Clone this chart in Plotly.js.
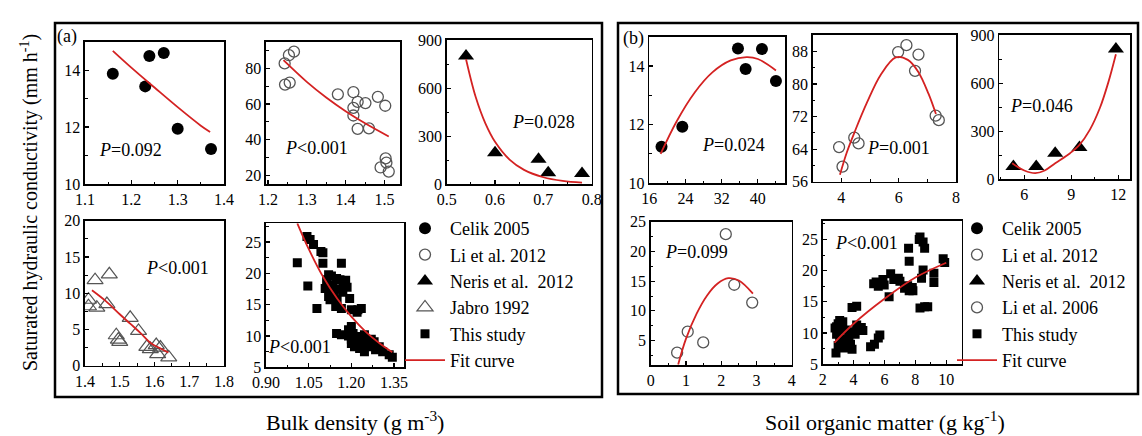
<!DOCTYPE html>
<html><head><meta charset="utf-8">
<script src="https://cdn.plot.ly/plotly-3.0.1.min.js"></script>
<style>html,body{margin:0;padding:0;background:#fff}#chart{width:1142px;height:436px}</style>
</head><body><div id="chart"></div>
<script>
// ---------- DATA ----------
// (a) Bulk density panels
const bdCelikX = [1.16, 1.239, 1.27, 1.23, 1.30, 1.372];
const bdCelikY = [13.87, 14.5, 14.6, 13.43, 11.94, 11.23];
const bdCelikFitX = [1.16, 1.20, 1.25, 1.30, 1.35, 1.37];
const bdCelikFitY = [14.68, 14.09, 13.39, 12.70, 12.05, 11.83];

const bdLiX = [1.243, 1.254, 1.267, 1.244, 1.256, 1.38, 1.42, 1.431, 1.451, 1.42, 1.42, 1.431, 1.46, 1.483, 1.502, 1.503, 1.505, 1.49, 1.511];
const bdLiY = [82.8, 87.4, 89.4, 70.9, 72.0, 65.4, 66.6, 61.2, 60.5, 57.8, 53.5, 46.0, 46.3, 64.0, 59.0, 29.4, 27.0, 24.3, 22.0];
const bdLiFitX = [1.24, 1.30, 1.35, 1.40, 1.45, 1.511];
const bdLiFitY = [84.6, 72.4, 63.6, 55.9, 49.1, 41.7];

const bdNerisX = [0.54, 0.60, 0.69, 0.71, 0.78];
const bdNerisY = [800, 197, 156, 72, 68];
const bdNerisFitX = [0.54, 0.56, 0.58, 0.60, 0.63, 0.66, 0.70, 0.74, 0.78];
const bdNerisFitY = [780, 544, 380, 265, 154, 90, 44, 21, 10];

const bdJabroX = [1.429, 1.47, 1.41, 1.41, 1.434, 1.463, 1.53, 1.554, 1.49, 1.496, 1.50, 1.578, 1.605, 1.617, 1.609, 1.641, 1.588];
const bdJabroY = [11.8, 12.6, 9.1, 8.2, 8.0, 8.5, 6.6, 4.8, 4.2, 3.6, 3.3, 2.6, 2.85, 2.5, 1.6, 1.15, 2.3];
const bdJabroFitX = [1.42, 1.46, 1.50, 1.53, 1.56, 1.59, 1.62, 1.64];
const bdJabroFitY = [10.4, 8.9, 7.1, 5.8, 4.5, 3.1, 2.3, 1.8];

const bdStudyX = [1.01, 1.047, 1.044, 1.055, 1.067, 1.093, 1.10, 1.079, 1.113, 1.13, 1.148, 1.16, 1.165, 1.171, 1.18, 1.108, 1.12, 1.125, 1.14, 1.15, 1.145, 1.165, 1.20, 1.22, 1.235, 1.148, 1.165, 1.19, 1.20, 1.206, 1.217, 1.20, 1.211, 1.229, 1.246, 1.263, 1.28, 1.298, 1.31, 1.333, 1.344, 1.246, 1.12, 1.135, 1.155, 1.17, 1.185, 1.13, 1.20, 1.19, 1.225, 1.27, 1.285, 1.25, 1.10, 1.194, 1.223];
const bdStudyY = [21.7, 18.0, 25.9, 25.4, 24.6, 23.5, 21.6, 14.4, 19.0, 19.6, 19.2, 19.0, 21.6, 18.5, 18.9, 17.6, 16.3, 15.8, 16.3, 15.8, 14.7, 14.4, 14.2, 13.8, 14.4, 10.4, 10.2, 11.0, 11.5, 10.4, 9.9, 8.8, 8.3, 8.0, 7.5, 8.3, 9.1, 8.3, 7.5, 7.0, 6.6, 10.2, 19.8, 18.2, 17.5, 17.0, 17.8, 17.0, 9.5, 10.0, 9.0, 9.5, 7.8, 8.8, 23.3, 16.0, 14.2];
const bdStudyFitX = [1.01, 1.05, 1.10, 1.15, 1.20, 1.25, 1.30, 1.344];
const bdStudyFitY = [28.0, 23.9, 19.5, 16.0, 13.1, 10.7, 8.8, 7.4];

// (b) Soil organic matter panels
const somCelikX = [18.7, 23.3, 35.6, 37.3, 40.9, 44.0];
const somCelikY = [11.25, 11.93, 14.6, 13.9, 14.58, 13.49];
const somCelikFitX = [18.5, 22, 26, 30, 34, 37.5, 40, 44];
const somCelikFitY = [11.0, 12.1, 13.09, 13.79, 14.19, 14.3, 14.24, 13.85];

const somLiX = [3.92, 4.04, 4.45, 4.6, 5.98, 6.27, 6.69, 6.57, 7.29, 7.4];
const somLiY = [64.5, 59.7, 66.8, 65.4, 87.8, 89.5, 87.2, 83.2, 72.2, 71.1];
const somLiFitX = [3.95, 4.18, 4.48, 4.9, 5.37, 5.9, 6.32, 6.68, 7.04, 7.3];
const somLiFitY = [57.7, 63.0, 68.5, 75.5, 82.2, 86.5, 85.9, 83.0, 77.6, 72.6];

const somNerisX = [5.3, 6.76, 7.97, 9.52, 11.85];
const somNerisY = [79.5, 80, 163, 199, 812];
const somNerisFitX = [5.22, 6.0, 6.7, 7.3, 7.97, 8.92, 9.52, 10.19, 10.83, 11.36, 11.85];
const somNerisFitY = [100, 55, 38, 55, 100, 163, 215, 310, 446, 603, 780];

const somLi06X = [0.75, 1.05, 1.49, 2.13, 2.37, 2.88];
const somLi06Y = [2.98, 6.5, 4.7, 22.9, 14.4, 11.4];
const somLi06FitX = [0.78, 1.0, 1.3, 1.6, 1.9, 2.2, 2.5, 2.9];
const somLi06FitY = [1.0, 5.3, 9.5, 12.6, 14.6, 15.5, 15.1, 12.9];

const somStudyX = [2.86, 2.8, 2.9, 3.0, 3.1, 3.2, 3.3, 3.0, 3.4, 3.6, 3.2, 3.5, 3.7, 3.8, 3.1, 2.9, 3.3, 3.9, 3.9, 4.2, 4.0, 4.3, 4.5, 4.6, 4.2, 4.1, 5.1, 5.35, 5.7, 5.6, 5.3, 5.6, 5.9, 6.4, 6.3, 6.9, 6.6, 7.3, 7.6, 7.8, 7.5, 7.0, 7.56, 7.6, 8.3, 8.5, 8.6, 8.25, 8.5, 8.4, 8.3, 8.6, 8.8, 9.2, 9.2, 9.8, 9.9, 5.46, 5.98, 7.84];
const somStudyY = [6.8, 10.8, 9.8, 11.5, 12.0, 10.5, 9.0, 8.0, 7.6, 7.8, 11.2, 10.5, 9.5, 8.2, 8.8, 11.0, 11.8, 7.4, 14.1, 14.3, 10.2, 10.8, 10.9, 10.4, 11.3, 9.8, 7.8, 8.2, 9.7, 9.2, 17.9, 17.5, 18.6, 19.5, 15.8, 18.8, 18.6, 17.2, 16.8, 17.3, 17.6, 18.3, 23.6, 21.5, 25.4, 24.6, 23.6, 25.0, 20.1, 18.8, 14.0, 14.2, 14.2, 19.6, 18.1, 21.9, 21.3, 18.2, 17.7, 16.8];
const somStudyFitX = [2.76, 4, 6, 8, 10];
const somStudyFitY = [8.47, 11.5, 15.5, 18.9, 21.27];

// labels
const legendNamesA = ['Celik 2005', 'Li et al. 2012', 'Neris et al.\u00a0 2012', 'Jabro 1992', 'This study', 'Fit curve'];
const legendNamesB = ['Celik 2005', 'Li et al. 2012', 'Neris et al.\u00a0 2012', 'Li et al. 2006', 'This study', 'Fit curve'];
const pLabels = ['<i>P</i>=0.092', '<i>P</i><0.001', '<i>P</i>=0.028', '<i>P</i><0.001', '<i>P</i><0.001',
                 '<i>P</i>=0.024', '<i>P</i>=0.001', '<i>P</i>=0.046', '<i>P</i>=0.099', '<i>P</i><0.001'];
const yTitle = 'Saturated hydraulic conductivity (mm h<sup>-1</sup>)';
const xTitleA = 'Bulk density (g m<sup>-3</sup>)';
const xTitleB = 'Soil organic matter (g kg<sup>-1</sup>)';

// ---------- STYLE / LAYOUT ----------
const W = 1142, H = 436;
const FONT = 'Liberation Serif';
const RED = '#d42222';
const dx = (a, b) => [a / W, b / W];
const dy = (top, bottom) => [1 - bottom / H, 1 - top / H];

const mFC = {symbol: 'circle', size: 12, color: '#000'};
const mOC = {symbol: 'circle-open', size: 11, color: '#555', line: {width: 1.3}};
const mFT = {symbol: 'triangle-up', size: 14, color: '#000'};
const mOT = {symbol: 'triangle-up-open', size: 14, color: '#555', line: {width: 1.2}};
const mSQ = {symbol: 'square', size: 9, color: '#000'};

function pts(x, y, ax, marker, name, legend) {
  return {type: 'scatter', mode: 'markers', x, y, xaxis: 'x' + ax, yaxis: 'y' + ax, marker, name, legend, showlegend: true};
}
function fit(x, y, ax, legend, show) {
  return {type: 'scatter', mode: 'lines', x, y, xaxis: 'x' + ax, yaxis: 'y' + ax,
    line: {color: RED, width: 1.8, shape: 'spline'}, name: 'Fit curve', legend, showlegend: show};
}

const traces = [
  pts(bdCelikX, bdCelikY, '', mFC, legendNamesA[0], 'legend'),
  pts(bdLiX, bdLiY, '2', mOC, legendNamesA[1], 'legend'),
  pts(bdNerisX, bdNerisY, '3', mFT, legendNamesA[2], 'legend'),
  pts(bdJabroX, bdJabroY, '4', mOT, legendNamesA[3], 'legend'),
  pts(bdStudyX, bdStudyY, '5', mSQ, legendNamesA[4], 'legend'),
  fit(bdCelikFitX, bdCelikFitY, '', 'legend', true),
  fit(bdLiFitX, bdLiFitY, '2', 'legend', false),
  fit(bdNerisFitX, bdNerisFitY, '3', 'legend', false),
  fit(bdJabroFitX, bdJabroFitY, '4', 'legend', false),
  fit(bdStudyFitX, bdStudyFitY, '5', 'legend', false),
  pts(somCelikX, somCelikY, '6', mFC, legendNamesB[0], 'legend2'),
  pts(somLiX, somLiY, '7', mOC, legendNamesB[1], 'legend2'),
  pts(somNerisX, somNerisY, '8', mFT, legendNamesB[2], 'legend2'),
  pts(somLi06X, somLi06Y, '9', mOC, legendNamesB[3], 'legend2'),
  pts(somStudyX, somStudyY, '10', mSQ, legendNamesB[4], 'legend2'),
  fit(somCelikFitX, somCelikFitY, '6', 'legend2', true),
  fit(somLiFitX, somLiFitY, '7', 'legend2', false),
  fit(somNerisFitX, somNerisFitY, '8', 'legend2', false),
  fit(somLi06FitX, somLi06FitY, '9', 'legend2', false),
  fit(somStudyFitX, somStudyFitY, '10', 'legend2', false)
];

function ax(domain, range, dtick, tick0, minor, anchor, extra) {
  return Object.assign({
    domain, range, dtick, tick0, tickmode: 'linear', anchor,
    ticks: 'inside', ticklen: 4, tickwidth: 1.2, tickcolor: '#000',
    showline: true, linecolor: '#000', linewidth: 1.6, mirror: true,
    showgrid: false, zeroline: false, fixedrange: true, automargin: false,
    tickfont: {family: FONT, size: 16, color: '#000'},
    minor: {dtick: minor, ticks: 'inside', ticklen: 2.5, tickwidth: 1, tickcolor: '#000', showgrid: false}
  }, extra || {});
}

// subplot pixel boxes: [left, right, top, bottom]
const boxes = [
  [85, 224, 41.7, 184], [266, 400, 41.7, 184], [446.7, 591.7, 40, 184.3],
  [85, 224, 220.7, 365.7], [266, 404, 223.3, 367.3],
  [649.3, 785, 36.7, 183.3], [812.7, 956, 35, 181.7], [999.3, 1130, 35, 179.3],
  [650.7, 791.7, 221.7, 365], [822.7, 961.7, 220.7, 364.3]
];
const xr = [[1.1, 1.4], [1.195, 1.54], [0.5, 0.8], [1.4, 1.8], [0.9, 1.385], [16, 46], [3, 8], [4.4, 12.75], [0, 4], [2, 11]];
const xt = [[0.1, 0, 0.05], [0.1, 0, 0.05], [0.1, 0, 0.05], [0.1, 0, 0.05], [0.15, 0, 0.075], [8, 0, 4], [2, 0, 1], [3, 0, 1.5], [1, 0, 0.5], [2, 0, 1]];
const yr = [[10, 15], [15, 95], [0, 900], [0, 20], [5, 28], [10, 15], [56, 92], [0, 900], [0.9, 25], [5, 28]];
const yt = [[2, 0, 1], [20, 0, 10], [300, 0, 150], [5, 0, 2.5], [5, 0, 2.5], [2, 0, 1], [8, 0, 4], [300, 0, 150], [5, 0, 2.5], [5, 0, 2.5]];
const pPos = [[1.199, 11.19], [1.324, 35.2], [0.70, 390], [1.665, 13.5], [1.018, 8.3], [34.7, 11.31], [6.01, 64.3], [7.08, 460], [1.30, 19.96], [4.81, 24.36]];

const layout = {
  width: W, height: H, margin: {l: 0, r: 0, t: 0, b: 0},
  paper_bgcolor: '#fff', plot_bgcolor: '#fff',
  font: {family: FONT, color: '#000'},
  showlegend: true,
  legend: {x: 400 / W, xanchor: 'left', y: 1 - 210 / H, yanchor: 'top', bgcolor: 'rgba(0,0,0,0)',
    font: {family: FONT, size: 18, color: '#000'}, itemwidth: 40, traceorder: 'normal', borderwidth: 0},
  legend2: {x: 952 / W, xanchor: 'left', y: 1 - 210 / H, yanchor: 'top', bgcolor: 'rgba(0,0,0,0)',
    font: {family: FONT, size: 18, color: '#000'}, itemwidth: 40, traceorder: 'normal', borderwidth: 0},
  shapes: [
    {type: 'rect', xref: 'paper', yref: 'paper', x0: 55 / W, x1: 602 / W, y0: 1 - 397 / H, y1: 1 - 23 / H, line: {color: '#000', width: 2.5}},
    {type: 'rect', xref: 'paper', yref: 'paper', x0: 618 / W, x1: 1138 / W, y0: 1 - 394 / H, y1: 1 - 23 / H, line: {color: '#000', width: 2.5}}
  ],
  annotations: [
    {xref: 'paper', yref: 'paper', x: 55 / W, y: 1 - 37 / H, xanchor: 'left', yanchor: 'middle', text: '(a)', showarrow: false, font: {family: FONT, size: 18}},
    {xref: 'paper', yref: 'paper', x: 621 / W, y: 1 - 39 / H, xanchor: 'left', yanchor: 'middle', text: '(b)', showarrow: false, font: {family: FONT, size: 18}},
    {xref: 'paper', yref: 'paper', x: 30 / W, y: 1 - 203 / H, xanchor: 'center', yanchor: 'middle', textangle: -90, text: yTitle, showarrow: false, font: {family: FONT, size: 20}},
    {xref: 'paper', yref: 'paper', x: 355 / W, y: 1 - 421 / H, xanchor: 'center', yanchor: 'middle', text: xTitleA, showarrow: false, font: {family: FONT, size: 22}},
    {xref: 'paper', yref: 'paper', x: 885 / W, y: 1 - 421 / H, xanchor: 'center', yanchor: 'middle', text: xTitleB, showarrow: false, font: {family: FONT, size: 22}}
  ]
};

for (let i = 0; i < 10; i++) {
  const s = i === 0 ? '' : String(i + 1);
  const b = boxes[i];
  layout['xaxis' + s] = ax(dx(b[0], b[1]), xr[i], xt[i][0], xt[i][1], xt[i][2], 'y' + s,
    i === 4 ? {tickformat: '.2f'} : {});
  layout['yaxis' + s] = ax(dy(b[2], b[3]), yr[i], yt[i][0], yt[i][1], yt[i][2], 'x' + s);
  layout.annotations.push({xref: 'x' + s, yref: 'y' + s, x: pPos[i][0], y: pPos[i][1], text: pLabels[i],
    showarrow: false, xanchor: 'center', yanchor: 'middle', font: {family: FONT, size: 18, color: '#000'}});
}

Plotly.newPlot('chart', traces, layout, {staticPlot: true, displayModeBar: false});
</script></body></html>
